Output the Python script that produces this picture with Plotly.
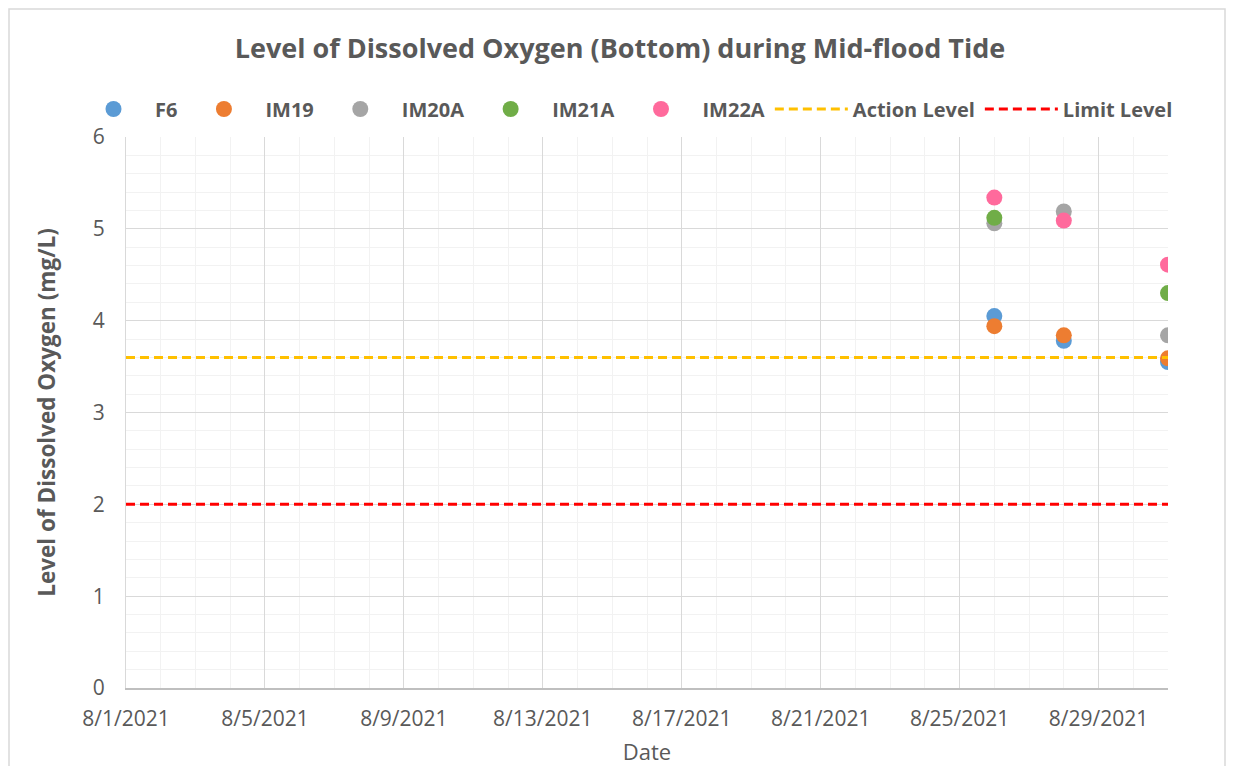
import plotly.graph_objects as go

dates = ["2021-08-26", "2021-08-28", "2021-08-31"]
f6 = [4.05, 3.78, 3.55]
im19 = [3.94, 3.84, 3.59]
im20a = [5.06, 5.19, 3.84]
im21a = [5.12, None, 4.30]
im22a = [5.34, 5.09, 4.61]

line_dates = ["2021-08-01", "2021-08-31"]
action_level = [3.6, 3.6]
limit_level = [2.0, 2.0]

series = [
    ("F6", f6, "#5B9BD5"),
    ("IM19", im19, "#ED7D31"),
    ("IM20A", im20a, "#A5A5A5"),
    ("IM21A", im21a, "#70AD47"),
    ("IM22A", im22a, "#FF6A9C"),
]

FONT = "Open Sans"
GREY = "#595959"

fig = go.Figure()
for name, vals, col in series:
    fig.add_trace(go.Scatter(x=dates, y=vals, mode="markers", name=name,
                             marker=dict(size=16, color=col, line=dict(width=0))))

fig.add_trace(go.Scatter(x=line_dates, y=action_level, mode="lines", name="Action Level",
                         line=dict(color="#FFC000", width=3, dash="9px,5px")))
fig.add_trace(go.Scatter(x=line_dates, y=limit_level, mode="lines", name="Limit Level",
                         line=dict(color="#FF0000", width=3, dash="9px,5px")))

OFF = 8  # page body margin
W, H = 1235 - 2 * OFF, 774 - 2 * OFF
L, T = 126 - OFF, 137 - OFF
pw, ph = 1042, 551
R = W - L - pw
B = H - T - ph

def px_x(x):
    return (x - 126) / pw

def px_y(y):
    return (688 - y) / ph

fig.update_layout(
    width=W, height=H,
    margin=dict(l=L, r=R, t=T, b=B, autoexpand=False),
    paper_bgcolor="white", plot_bgcolor="white",
    font=dict(family=FONT, color=GREY),
    title=dict(text="Level of Dissolved Oxygen (Bottom) during Mid-flood Tide",
               x=(620 - OFF) / W, xanchor="center", y=1 - (49 - OFF) / H, yanchor="middle",
               font=dict(size=27, color=GREY, family=FONT, weight="bold")),
    legend=dict(orientation="h", x=px_x(72), xanchor="left", y=px_y(109), yanchor="middle",
                font=dict(size=20, color=GREY, family=FONT, weight="bold"), bgcolor="rgba(0,0,0,0)",
                itemwidth=73, traceorder="normal"),
    showlegend=True,
    xaxis=dict(
        type="date", range=["2021-08-01", "2021-08-31"],
        tick0="2021-08-01", dtick=4 * 86400000, tickformat="%-m/%-d/%Y",
        showgrid=True, gridcolor="#D9D9D9", gridwidth=1,
        minor=dict(dtick=86400000, tick0="2021-08-01", showgrid=True, gridcolor="#F2F2F2", gridwidth=1, ticks=""),
        showline=True, linecolor="#BFBFBF", linewidth=1.5,
        ticks="outside", ticklen=11, tickcolor="rgba(0,0,0,0)",
        tickfont=dict(size=21, color=GREY, family=FONT),
        title=dict(text="Date", font=dict(size=22, color=GREY, family=FONT), standoff=22),
        zeroline=False, automargin=False,
    ),
    yaxis=dict(
        range=[0, 6], dtick=1, tick0=0,
        showgrid=True, gridcolor="#D9D9D9", gridwidth=1,
        minor=dict(dtick=0.2, showgrid=True, gridcolor="#F2F2F2", gridwidth=1, ticks=""),
        showline=True, linecolor="#D9D9D9", linewidth=1,
        ticks="outside", ticklen=16, tickcolor="rgba(0,0,0,0)",
        tickfont=dict(size=21, color=GREY, family=FONT),
        title=dict(text="Level of Dissolved Oxygen (mg/L)",
                   font=dict(size=22.5, color=GREY, family=FONT, weight="bold"), standoff=30),
        zeroline=False, automargin=False,
    ),
    shapes=[dict(type="rect", xref="paper", yref="paper",
                 x0=px_x(9), x1=px_x(1225), y0=px_y(800), y1=px_y(9),
                 line=dict(color="#D9D9D9", width=1.5), fillcolor="rgba(0,0,0,0)", layer="below")],
)

fig.write_html("out.html")
